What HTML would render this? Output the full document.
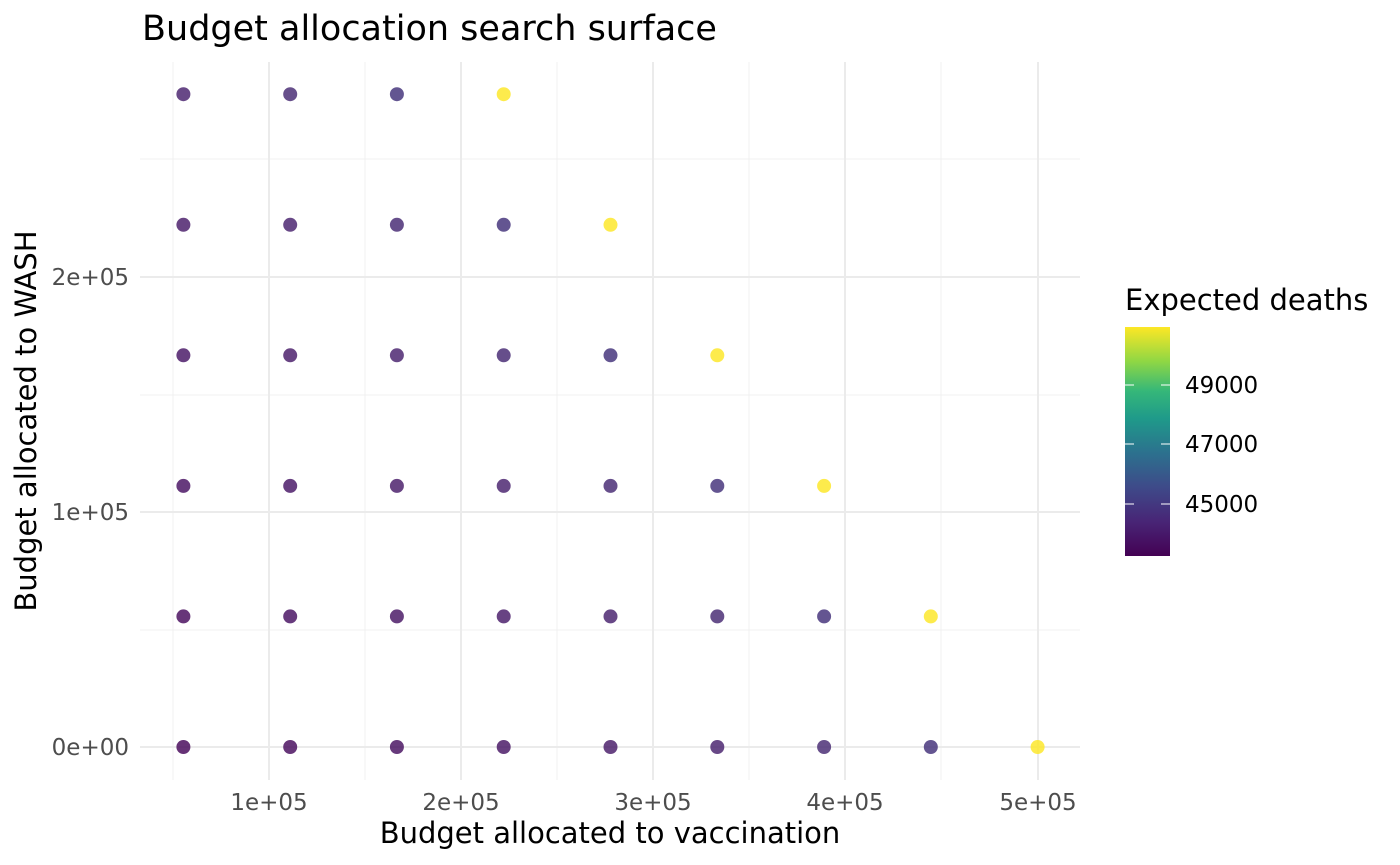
<!DOCTYPE html>
<html><head><meta charset="utf-8"><style>
body{margin:0;background:#fff;}
svg{display:block;font-family:"DejaVu Sans","Liberation Sans",sans-serif;}
</style></head><body>
<svg width="1400" height="865" viewBox="0 0 1400 865" xmlns="http://www.w3.org/2000/svg">
<defs><linearGradient id="vir" x1="0" y1="1" x2="0" y2="0">
<stop offset="0" stop-color="#440154"/><stop offset="0.15" stop-color="#482576"/>
<stop offset="0.3" stop-color="#3e4a89"/><stop offset="0.45" stop-color="#2c718e"/>
<stop offset="0.6" stop-color="#1f9a8a"/><stop offset="0.72" stop-color="#35b779"/>
<stop offset="0.85" stop-color="#8fd744"/><stop offset="1" stop-color="#fde725"/>
</linearGradient></defs>
<g stroke="#f0f0f0" stroke-width="1">
<line x1="173" y1="62" x2="173" y2="780"/><line x1="365" y1="62" x2="365" y2="780"/><line x1="557" y1="62" x2="557" y2="780"/><line x1="749" y1="62" x2="749" y2="780"/><line x1="941" y1="62" x2="941" y2="780"/>
<line x1="140" y1="630" x2="1080" y2="630"/><line x1="140" y1="395" x2="1080" y2="395"/><line x1="140" y1="159" x2="1080" y2="159"/>
</g>
<g stroke="#ebebeb" stroke-width="2">
<line x1="269" y1="62" x2="269" y2="780"/><line x1="461" y1="62" x2="461" y2="780"/><line x1="653" y1="62" x2="653" y2="780"/><line x1="845" y1="62" x2="845" y2="780"/><line x1="1038" y1="62" x2="1038" y2="780"/>
<line x1="140" y1="747" x2="1080" y2="747"/><line x1="140" y1="512" x2="1080" y2="512"/><line x1="140" y1="277" x2="1080" y2="277"/>
</g>
<g id="pts" opacity="0.82"></g>
<g font-size="23" fill="#4d4d4d">
<text x="129" y="755" text-anchor="end">0e+00</text><text x="129" y="520" text-anchor="end">1e+05</text><text x="129" y="285" text-anchor="end">2e+05</text>
<text x="269" y="810" text-anchor="middle">1e+05</text><text x="461" y="810" text-anchor="middle">2e+05</text><text x="653" y="810" text-anchor="middle">3e+05</text><text x="845" y="810" text-anchor="middle">4e+05</text><text x="1038" y="810" text-anchor="middle">5e+05</text>
</g>
<text x="610" y="843" font-size="29" text-anchor="middle" fill="#000">Budget allocated to vaccination</text>
<text transform="translate(36,421) rotate(-90)" font-size="29" text-anchor="middle" fill="#000">Budget allocated to WASH</text>
<text x="142" y="40" font-size="35" fill="#000">Budget allocation search surface</text>
<text x="1125" y="310" font-size="29" fill="#000">Expected deaths</text>
<rect x="1125" y="327" width="45" height="229" fill="url(#vir)"/>
<g stroke="#fff" stroke-width="1">
<line x1="1125" y1="385" x2="1134" y2="385"/><line x1="1161" y1="385" x2="1170" y2="385"/>
<line x1="1125" y1="444" x2="1134" y2="444"/><line x1="1161" y1="444" x2="1170" y2="444"/>
<line x1="1125" y1="504" x2="1134" y2="504"/><line x1="1161" y1="504" x2="1170" y2="504"/>
</g>
<g font-size="23" fill="#000">
<text x="1185" y="393">49000</text><text x="1185" y="452">47000</text><text x="1185" y="512">45000</text>
</g>
<script>
var g=document.getElementById('pts'),ns='http://www.w3.org/2000/svg';
var cols=['#440558','#450a5c','#460f60','#461464','#471a68','#47206d','#452872','#423079'];
for(var j=0;j<6;j++){for(var i=0;i<9-j;i++){
 var x=76.6+192.2*0.55556*(i+1),y=747-235*0.55556*j;
 var c=document.createElementNS(ns,'circle');
 c.setAttribute('cx',x.toFixed(1));c.setAttribute('cy',y.toFixed(1));c.setAttribute('r','7');
 var last=(i==8-j);
 c.setAttribute('fill',last?'#fde725':cols[Math.min(7,i+j)]);
 g.appendChild(c);}}
</script>
</svg>
</body></html>
